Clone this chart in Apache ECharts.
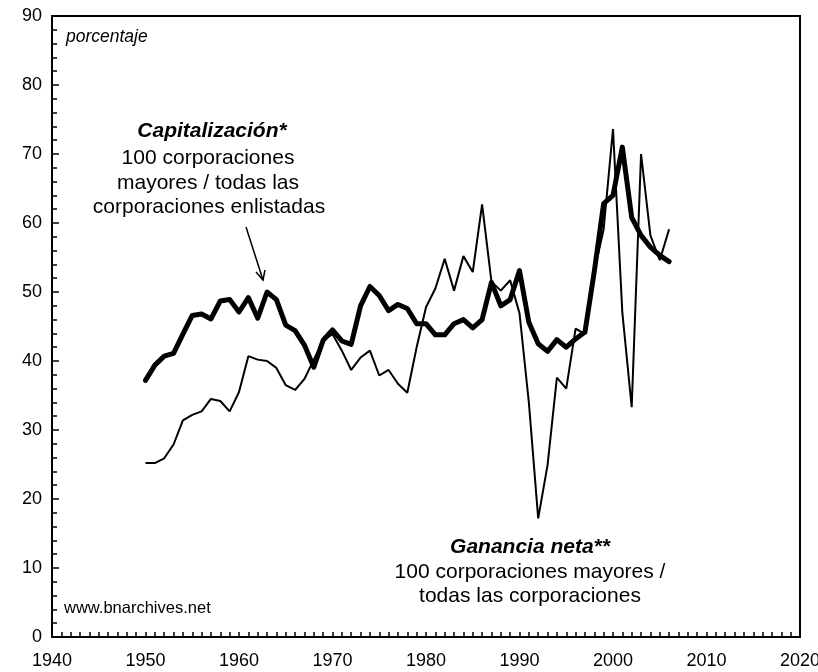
<!DOCTYPE html>
<html>
<head>
<meta charset="utf-8">
<script src="https://cdn.jsdelivr.net/npm/echarts@6/dist/echarts.min.js"></script>
<style>
html, body { margin: 0; padding: 0; background: #fff; }
#main { width: 818px; height: 672px; }
</style>
</head>
<body>
<div id="main"></div>
<script>
var years = [1950, 1951, 1952, 1953, 1954, 1955, 1956, 1957, 1958, 1959,
    1960, 1961, 1962, 1963, 1964, 1965, 1966, 1967, 1968, 1969,
    1970, 1971, 1972, 1973, 1974, 1975, 1976, 1977, 1978, 1979,
    1980, 1981, 1982, 1983, 1984, 1985, 1986, 1987, 1988, 1989,
    1990, 1991, 1992, 1993, 1994, 1995, 1996, 1997, 1998, 1999,
    2000, 2001, 2002, 2003, 2004, 2005, 2006];

// Capitalizacion: 100 largest / all listed corporations (thick line)
var capitalizacion = [37.2, 39.4, 40.7, 41.1, 43.9, 46.6, 46.8, 46.1, 48.7, 48.9,
    47.1, 49.2, 46.2, 50.0, 48.9, 45.2, 44.4, 42.3, 39.1, 43.0,
    44.5, 42.9, 42.4, 48.0, 50.8, 49.5, 47.3, 48.2, 47.6, 45.4,
    45.4, 43.8, 43.8, 45.4, 46.0, 44.8, 46.0, 51.4, 48.0, 48.9,
    53.1, 45.6, 42.5, 41.4, 43.1, 42.0, 43.2, 44.2, 53.0, 62.8,
    64.0, 71.0, 60.8, 58.2, 56.5, 55.3, 54.4];

// Ganancia neta: 100 largest / all corporations (thin line)
var ganancia = [25.2, 25.2, 25.9, 27.9, 31.4, 32.2, 32.7, 34.5, 34.2, 32.7,
    35.5, 40.7, 40.2, 40.0, 39.0, 36.5, 35.8, 37.4, 40.2, 43.0,
    43.9, 41.5, 38.7, 40.5, 41.5, 37.9, 38.7, 36.7, 35.4, 42.0,
    47.8, 50.5, 54.8, 50.2, 55.2, 52.9, 62.7, 51.5, 50.2, 51.7,
    46.9, 34.0, 17.2, 24.9, 37.6, 36.0, 44.7, 43.9, 53.0, 59.1,
    73.6, 47.0, 33.3, 70.0, 58.2, 54.6, 59.1];

function pairs(xs, ys) {
    return xs.map(function (x, i) { return [x, ys[i]]; });
}

var font = '"Liberation Sans", Arial, sans-serif';

var myChart = echarts.init(document.getElementById('main'));
myChart.setOption({
    animation: false,
    backgroundColor: '#fff',
    grid: {
        left: 52,
        right: 18,
        top: 16,
        bottom: 35,
        outerBoundsMode: 'none',
        containLabel: false,
        show: true,
        borderColor: '#000',
        borderWidth: 2
    },
    xAxis: {
        type: 'value',
        min: 1940,
        max: 2020,
        interval: 10,
        axisLine: { show: true, lineStyle: { color: '#000', width: 2 } },
        axisTick: { show: true, inside: true, length: 5, lineStyle: { color: '#000', width: 1.5 } },
        minorTick: { show: true, splitNumber: 10, length: 5, lineStyle: { color: '#000', width: 1.5 } },
        axisLabel: {
            color: '#000', fontSize: 18, fontFamily: font, margin: 15,
            formatter: function (v) { return String(v); }
        },
        splitLine: { show: false }
    },
    yAxis: {
        type: 'value',
        min: 0,
        max: 90,
        interval: 10,
        axisLine: { show: true, lineStyle: { color: '#000', width: 2 } },
        axisTick: { show: true, inside: true, length: 7, lineStyle: { color: '#000', width: 1.5 } },
        minorTick: { show: true, splitNumber: 5, length: 5, lineStyle: { color: '#000', width: 1.5 } },
        axisLabel: { color: '#000', fontSize: 18, fontFamily: font, margin: 10 },
        splitLine: { show: false }
    },
    series: [
        {
            name: 'Capitalización',
            type: 'line',
            data: pairs(years, capitalizacion),
            symbol: 'none',
            lineStyle: { color: '#000', width: 5, join: 'round', cap: 'round' },
            z: 2
        },
        {
            name: 'Ganancia neta',
            type: 'line',
            data: pairs(years, ganancia),
            symbol: 'none',
            lineStyle: { color: '#000', width: 2 },
            z: 3
        }
    ],
    graphic: [
        { type: 'text', left: 66, top: 28, style: { text: 'porcentaje', font: 'italic 17.5px ' + font, fill: '#000' } },
        { type: 'text', left: 64, top: 600, style: { text: 'www.bnarchives.net', font: '16.5px ' + font, fill: '#000' } },
        { type: 'text', x: 212, y: 131, style: { text: 'Capitalización*', font: 'italic bold 21px ' + font, fill: '#000', textAlign: 'center', textVerticalAlign: 'middle' } },
        { type: 'text', x: 208, y: 158, style: { text: '100 corporaciones', font: '21px ' + font, fill: '#000', textAlign: 'center', textVerticalAlign: 'middle' } },
        { type: 'text', x: 208, y: 183, style: { text: 'mayores / todas las', font: '21px ' + font, fill: '#000', textAlign: 'center', textVerticalAlign: 'middle' } },
        { type: 'text', x: 209, y: 207, style: { text: 'corporaciones enlistadas', font: '21px ' + font, fill: '#000', textAlign: 'center', textVerticalAlign: 'middle' } },
        { type: 'text', x: 530, y: 547, style: { text: 'Ganancia neta**', font: 'italic bold 21px ' + font, fill: '#000', textAlign: 'center', textVerticalAlign: 'middle' } },
        { type: 'text', x: 530, y: 572, style: { text: '100 corporaciones mayores /', font: '21px ' + font, fill: '#000', textAlign: 'center', textVerticalAlign: 'middle' } },
        { type: 'text', x: 530, y: 596, style: { text: 'todas las corporaciones', font: '21px ' + font, fill: '#000', textAlign: 'center', textVerticalAlign: 'middle' } },
        { type: 'line', shape: { x1: 246, y1: 227, x2: 263, y2: 280 }, style: { stroke: '#000', lineWidth: 1.5 } },
        { type: 'polyline', shape: { points: [[256, 272], [263, 280], [265, 270]] }, style: { stroke: '#000', lineWidth: 1.5, fill: null } }
    ]
});
</script>
</body>
</html>
